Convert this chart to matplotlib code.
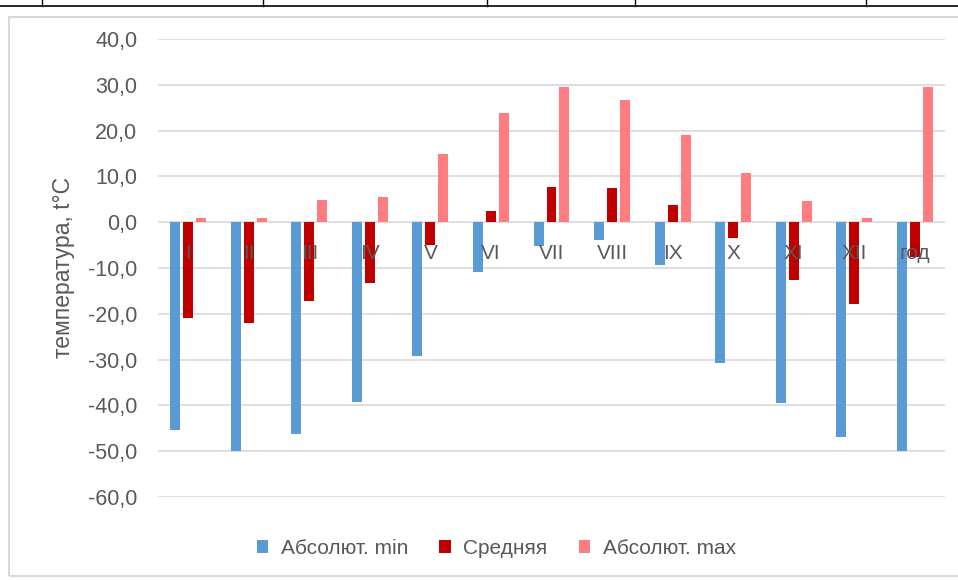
import numpy as np
import matplotlib
matplotlib.use("Agg")
import matplotlib.pyplot as plt
from matplotlib.patches import Rectangle
from matplotlib.lines import Line2D

plt.rcParams['font.family'] = ['Liberation Sans', 'DejaVu Sans']

# данные
months = ["I", "II", "III", "IV", "V", "VI", "VII", "VIII", "IX", "X", "XI", "XII", "год"]
t_min = [-45.4, -50.0, -46.3, -39.2, -29.3, -10.9, -5.2, -3.8, -9.4, -30.8, -39.5, -47.0, -50.0]
t_mean = [-21.0, -22.0, -17.2, -13.3, -5.0, 2.4, 7.7, 7.5, 3.8, -3.4, -12.7, -17.9, -7.6]
t_max = [0.9, 0.9, 4.8, 5.5, 14.9, 23.8, 29.5, 26.7, 19.0, 10.7, 4.6, 0.9, 29.5]
yticks = np.arange(-60, 41, 10)

W, H = 958, 580
fig = plt.figure(figsize=(W / 100, H / 100), dpi=100)

# рамка диаграммы и линии таблицы сверху
fig.patches.append(Rectangle((9 / W, 4 / H), 1, 559 / H, transform=fig.transFigure,
                             fill=False, edgecolor="#d9d9d9", linewidth=1.5))
fig.lines.append(Line2D([0, 1], [1 - 6 / H, 1 - 6 / H], transform=fig.transFigure,
                        color="black", linewidth=1.2))
for xv in [42, 263, 487, 635, 866]:
    fig.lines.append(Line2D([xv / W, xv / W], [1 - 6 / H, 1], transform=fig.transFigure,
                            color="black", linewidth=1))

ax = fig.add_axes([158 / W, 83 / H, 787 / W, 458 / H])

x = np.arange(len(months))
w = 0.165
off = 0.214

# сетка под столбцами, подписи поверх
for v in yticks:
    ax.axhline(v, color="#d9d9d9", linewidth=1.2, zorder=0)
ax.bar(x - off, t_min, w, color="#5B9BD5", label="Абсолют. min", zorder=1)
ax.bar(x, t_mean, w, color="#C00000", label="Средняя", zorder=1)
ax.bar(x + off, t_max, w, color="#FF7C80", label="Абсолют. max", zorder=1)

ax.set_xlim(-0.5, len(months) - 0.5)
ax.set_ylim(-60, 40)
ax.set_yticks(yticks)
ax.set_yticklabels([f"{v:.1f}".replace(".", ",") for v in yticks])
ax.set_axisbelow(False)

ax.set_xticks(x)
ax.set_xticklabels(months)
ax.spines['bottom'].set_position(('data', 0))
for s in ax.spines.values():
    s.set_visible(False)
ax.tick_params(axis='x', length=0, pad=16, labelsize=15, colors="#595959")
ax.tick_params(axis='y', length=0, pad=15, labelsize=15.5, colors="#595959")

ax.set_ylabel("температура, t°C", fontsize=16.5, color="#595959", labelpad=9)

ax.legend(loc="upper center", bbox_to_anchor=(0.43, -0.05), ncol=3, frameon=False,
          fontsize=15, labelcolor="#595959", handlelength=0.55, handleheight=0.55,
          columnspacing=1.5, handletextpad=0.6)

fig.savefig("out.png", dpi=100)
